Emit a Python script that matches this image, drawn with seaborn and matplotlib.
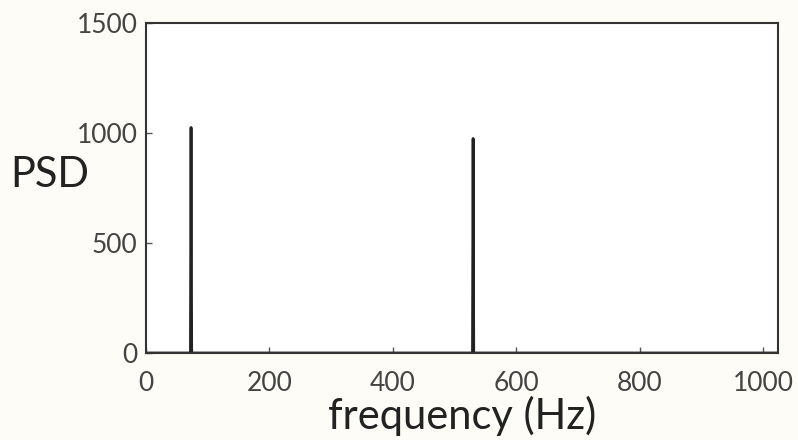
import matplotlib
matplotlib.use("Agg")
import matplotlib.pyplot as plt
import seaborn as sns
import pandas as pd

# Spectrum data (frequency in Hz, PSD)
freq = [0, 72, 73, 74, 529, 530, 531, 1024]
psd = [0, 0, 1025, 0, 0, 975, 0, 0]
x_ticks = [0, 200, 400, 600, 800, 1000]
y_ticks = [0, 500, 1000, 1500]

df = pd.DataFrame({"frequency": freq, "PSD": psd})

sns.set_theme(style="ticks")
plt.rcParams["font.family"] = ["Lato", "DejaVu Sans"]

fig = plt.figure(figsize=(7.98, 4.40), dpi=100, facecolor="#fdfcf6")
ax = fig.add_axes([146/798, 1 - 353/440, (778-146)/798, (353-23)/440])
ax.set_facecolor("white")

sns.lineplot(data=df, x="frequency", y="PSD", ax=ax, color="#222222", linewidth=2.0)

ax.set_xlim(0, 1024)
ax.set_ylim(0, 1500)
ax.set_xticks(x_ticks)
ax.set_yticks(y_ticks)
ax.tick_params(direction="in", length=4, width=1, colors="#555555", labelsize=19, labelcolor="#444444")
ax.tick_params(axis="x", pad=13)
ax.tick_params(axis="y", pad=6)
for s in ax.spines.values():
    s.set_visible(True)
    s.set_color("#333333")
    s.set_linewidth(1.5)

ax.set_xlabel("frequency (Hz)", fontsize=30, color="#222222", labelpad=0, va="top")
ax.xaxis.set_label_coords(0.50, -0.13)
ax.set_ylabel("PSD", fontsize=30, color="#222222", rotation=0, labelpad=0, va="center", ha="center")
ax.yaxis.set_label_coords(-0.152, 0.54)

fig.savefig("out.png", dpi=100, facecolor=fig.get_facecolor())
